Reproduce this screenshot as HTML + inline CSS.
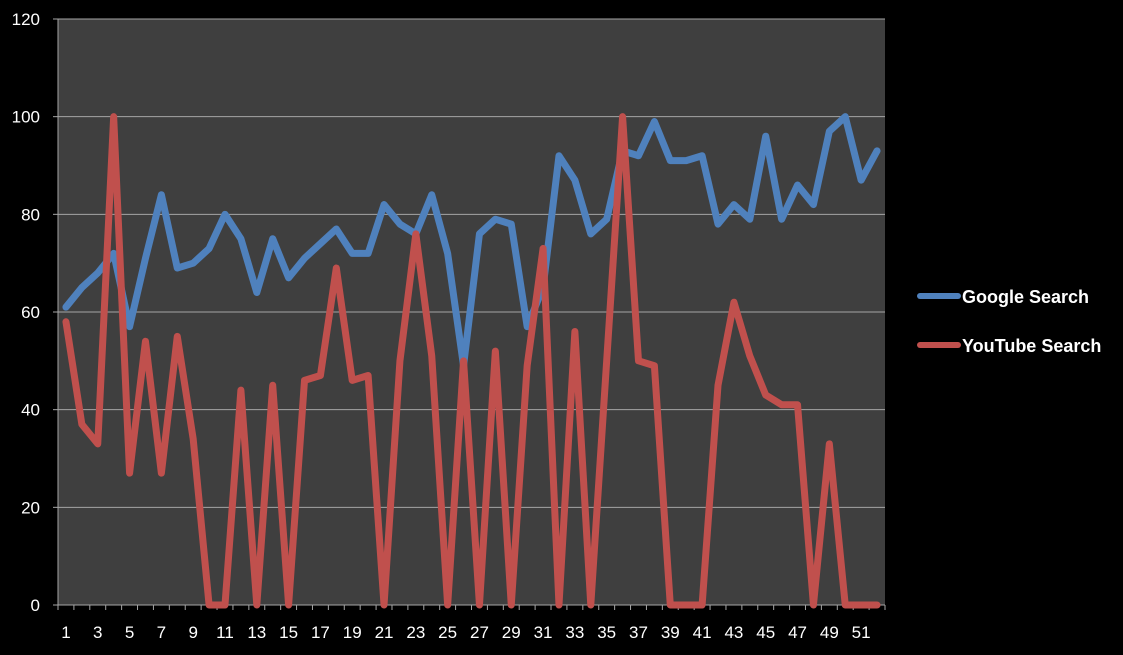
<!DOCTYPE html>
<html><head><meta charset="utf-8"><style>
html,body{margin:0;padding:0;background:#000;}
svg{display:block;font-family:"Liberation Sans",sans-serif;}
</style></head><body>
<svg id="chart" width="1123" height="655" viewBox="0 0 1123 655" xmlns="http://www.w3.org/2000/svg">
<rect width="1123" height="655" fill="#000"/>
<rect x="58" y="19" width="827" height="586" fill="#3f3f3f"/>
<g id="grid"></g><g id="axes"></g><g id="series"></g>
<g>
<line x1="920" y1="296" x2="958" y2="296" stroke="#4f81bd" stroke-width="6" stroke-linecap="round"/>
<text x="962" y="303" fill="#fff" font-size="18" font-weight="bold">Google Search</text>
<line x1="920" y1="345" x2="958" y2="345" stroke="#c0504d" stroke-width="6" stroke-linecap="round"/>
<text x="962" y="352" fill="#fff" font-size="18" font-weight="bold">YouTube Search</text>
</g>
</svg>
<script>
const categories = Array.from({length:52},(_,i)=>i+1);
const googleValues = [61,65,68,72,57,71,84,69,70,73,80,75,64,75,67,71,74,77,72,72,82,78,76,84,72,49,76,79,78,57,65,92,87,76,79,93,92,99,91,91,92,78,82,79,96,79,86,82,97,100,87,93];
const youtubeValues = [58,37,33,100,27,54,27,55,34,0,0,44,0,45,0,46,47,69,46,47,0,50,76,51,0,50,0,52,0,49,73,0,56,0,50,100,50,49,0,0,0,45,62,51,43,41,41,0,33,0,0,0];
const yTicks = [0,20,40,60,80,100,120];
const NS='http://www.w3.org/2000/svg';
const L=58,R=885,T=19,B=605,YMAX=120;
const step=(R-L)/categories.length;
const xs=i=>L+step*(i+0.5);
const ys=v=>B-(v/YMAX)*(B-T);
function mk(tag,attrs,parent){const e=document.createElementNS(NS,tag);for(const k in attrs)e.setAttribute(k,attrs[k]);parent.appendChild(e);return e;}
const grid=document.getElementById('grid'),axes=document.getElementById('axes'),series=document.getElementById('series');
yTicks.forEach(t=>{
  if(t>0){const g=mk('line',{x1:L,x2:R,y1:ys(t),y2:ys(t),stroke:'#a6a6a6','stroke-width':1},grid);
  
  }
  const tk=mk('line',{x1:L-5,x2:L,y1:ys(t),y2:ys(t),stroke:'#a6a6a6'},axes);
  
  
  const tx=mk('text',{x:40,y:ys(t)+6,'text-anchor':'end',fill:'#fff','font-size':17},axes);
  tx.textContent=t;
  
  
});
const ax=mk('line',{x1:L,x2:R,y1:B,y2:B,stroke:'#a6a6a6'},axes);


const ay=mk('line',{x1:L,x2:L,y1:T,y2:B,stroke:'#a6a6a6'},axes);


for(let i=0;i<=categories.length;i++){
  const t=mk('line',{x1:L+step*i,x2:L+step*i,y1:B,y2:B+5,stroke:'#a6a6a6'},axes);
  
  
}
categories.forEach((c,i)=>{
  if(i%2)return;
  const t=mk('text',{x:xs(i),y:638,'text-anchor':'middle',fill:'#fff','font-size':17},axes);
  t.textContent=c;
  
  
});
function line(vals,color,name){
  const p=mk('polyline',{points:vals.map((v,i)=>xs(i)+','+ys(v)).join(' '),fill:'none',stroke:color,'stroke-width':7,'stroke-linejoin':'round','stroke-linecap':'round'},series);
  
  
}
line(googleValues,'#4f81bd','google-search-line');
line(youtubeValues,'#c0504d','youtube-search-line');
</script>
</body></html>
